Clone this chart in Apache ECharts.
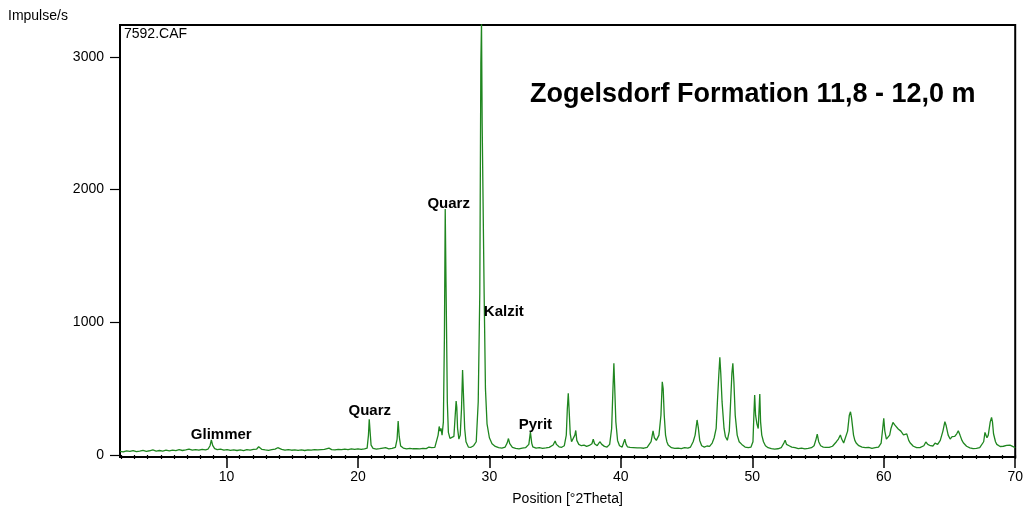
<!DOCTYPE html>
<html>
<head>
<meta charset="utf-8">
<title>Zogelsdorf Formation 11,8 - 12,0 m</title>
<script src="https://cdn.jsdelivr.net/npm/echarts@6/dist/echarts.min.js"></script>
<style>
  html, body { margin: 0; padding: 0; background: #fff; }
  #chart { width: 1026px; height: 512px; }
</style>
</head>
<body>
<div id="chart"></div>
<script>
// Diffractogram 7592.CAF: [position °2Theta, intensity impulse/s]
const scan = [
  [1.9,28],[2.05,33],[2.15,24],[2.3,29],[2.4,31],[2.55,25],[2.65,27],[2.8,31],[2.9,33],[3.05,28],[3.15,26],[3.3,32],[3.4,30],[3.55,27],[3.65,35],[3.8,31],[3.9,28],[4.05,34],[4.15,32],
  [4.3,29],[4.4,38],[4.55,33],[4.65,30],[4.8,36],[4.9,34],[5.05,31],[5.15,29],[5.3,35],[5.4,36],[5.55,30],[5.65,31],[5.8,38],[5.9,37],[6.05,32],[6.15,33],[6.3,37],[6.4,40],[6.55,35],[6.65,34],
  [6.8,40],[6.9,38],[7.05,36],[7.15,44],[7.3,39],[7.4,36],[7.55,42],[7.65,41],[7.8,35],[7.9,37],[8.05,41],[8.15,43],[8.3,38],[8.4,39],[8.6,45],[8.75,70],[8.85,113],
  [8.95,72],[9.1,48],[9.3,40],[9.45,37],[9.55,44],[9.7,39],[9.8,36],[9.95,40],[10.05,41],[10.2,37],[10.3,35],[10.45,40],[10.55,39],[10.7,35],[10.8,34],[10.95,39],[11.05,38],
  [11.2,35],[11.3,33],[11.45,39],[11.55,40],[11.7,35],[11.8,36],[11.95,40],[12.05,42],[12.3,45],[12.45,62],[12.55,58],[12.7,42],[12.85,40],[12.95,38],[13.1,41],[13.2,35],
  [13.35,38],[13.45,40],[13.6,38],[13.7,44],[13.9,55],[14.05,46],[14.2,42],[14.3,40],[14.45,37],[14.55,36],[14.7,41],[14.8,39],[14.95,36],[15.05,34],[15.2,39],[15.3,38],[15.45,35],[15.55,33],
  [15.7,38],[15.8,37],[15.95,34],[16.05,35],[16.2,39],[16.3,40],[16.45,37],[16.55,36],[16.7,41],[16.8,39],[16.95,38],[17.05,42],[17.2,40],[17.3,38],[17.45,42],[17.55,44],[17.8,52],[18.0,41],
  [18.15,44],[18.25,38],[18.4,42],[18.5,43],[18.65,39],[18.75,40],[18.9,44],[19.0,45],[19.15,40],[19.25,41],[19.4,46],[19.5,47],[19.65,43],[19.75,42],[19.9,47],[20.0,46],[20.15,42],[20.25,43],[20.4,48],[20.5,47],
  [20.7,52],[20.8,150],[20.86,269],[20.93,170],[21.0,75],[21.15,50],[21.3,47],[21.4,45],[21.55,50],[21.65,48],[21.8,46],[21.9,52],[22.0,62],
  [22.1,55],[22.25,50],[22.35,47],[22.5,52],[22.6,50],[22.75,54],[22.85,58],[22.98,120],[23.06,256],[23.14,140],[23.25,68],[23.35,56],[23.45,52],[23.6,49],[23.7,46],
  [23.85,51],[23.95,50],[24.1,46],[24.2,47],[24.3,55],[24.45,48],[24.6,51],[24.7,46],[24.85,52],[24.95,50],[25.1,46],[25.2,48],[25.4,60],[25.5,68],[25.6,55],
  [25.75,52],[25.85,58],[26.0,70],[26.1,150],[26.18,215],[26.25,180],[26.32,200],[26.4,150],[26.5,250],[26.58,900],[26.64,1854],
  [26.7,1300],[26.74,950],[26.8,400],[26.88,170],[27.0,125],[27.15,115],[27.3,140],[27.4,300],[27.47,407],[27.52,360],
  [27.58,200],[27.68,120],[27.78,150],[27.88,350],[27.96,640],[28.04,420],[28.12,200],[28.22,100],[28.4,60],[28.5,52],[28.6,58],
  [28.8,70],[29.0,100],[29.15,400],[29.27,1220],[29.35,2950],[29.4,3260],[29.45,2500],[29.52,1900],[29.6,1220],[29.7,500],
  [29.82,235],[30.0,130],[30.2,85],[30.35,72],[30.45,65],[30.6,60],[30.7,55],[30.85,58],[30.95,52],[31.1,55],[31.2,60],[31.35,90],[31.45,124],[31.55,85],
  [31.75,58],[31.9,54],[32.0,50],[32.15,53],[32.25,47],[32.4,51],[32.5,52],[32.65,49],[32.75,55],[32.88,58],[33.0,80],[33.12,173],[33.22,90],[33.3,62],[33.4,55],[33.55,52],[33.65,50],
  [33.8,55],[33.9,52],[34.05,50],[34.15,48],[34.3,53],[34.4,55],[34.55,58],[34.65,60],[34.85,75],[35.0,105],[35.1,80],[35.2,66],[35.3,62],[35.4,56],[35.5,58],[35.6,63],[35.7,70],
  [35.85,150],[35.93,350],[36.0,465],[36.07,330],[36.15,160],[36.25,100],[36.4,95],[36.5,150],[36.57,185],[36.65,110],
  [36.8,80],[36.9,74],[37.0,70],[37.1,78],[37.2,75],[37.3,68],[37.4,65],[37.5,74],[37.6,72],[37.7,68],[37.8,85],[37.9,119],[38.0,85],[38.1,74],[38.2,70],[38.3,82],[38.4,100],
  [38.55,80],[38.65,70],[38.75,65],[38.85,62],[38.95,60],[39.05,66],[39.15,80],[39.3,200],[39.4,500],[39.47,691],[39.53,520],[39.62,250],[39.75,110],
  [39.9,70],[40.0,64],[40.1,60],[40.2,72],[40.3,119],[40.4,80],[40.5,62],[40.6,55],[40.7,58],[40.85,52],[40.95,56],[41.1,58],[41.25,53],[41.35,50],[41.5,54],[41.6,55],[41.75,51],[41.85,53],
  [42.0,57],[42.1,60],[42.3,100],[42.45,182],[42.55,130],[42.7,110],[42.9,150],[43.05,300],[43.15,552],[43.22,500],[43.3,300],
  [43.4,150],[43.5,100],[43.6,75],[43.75,60],[43.85,55],[44.0,52],[44.1,50],[44.25,54],[44.35,52],[44.5,49],[44.6,48],[44.75,53],[44.85,55],[45.0,51],[45.1,52],[45.2,57],[45.3,60],[45.5,100],
  [45.65,150],[45.8,264],[45.9,200],[46.0,110],[46.15,70],[46.25,64],[46.35,60],[46.45,65],[46.55,68],[46.65,62],[46.75,65],[46.85,72],[46.95,90],[47.1,130],
  [47.25,200],[47.35,409],[47.45,600],[47.53,736],[47.6,620],[47.7,400],[47.85,200],[47.95,140],[48.1,111],[48.25,180],
  [48.35,400],[48.45,620],[48.52,691],[48.6,550],[48.7,300],[48.85,150],[49.0,100],[49.1,86],[49.2,80],[49.35,66],[49.45,60],[49.6,58],[49.7,55],
  [49.8,57],[49.9,60],[50.05,100],[50.12,300],[50.18,452],[50.25,300],[50.35,235],[50.45,200],[50.52,350],[50.57,460],[50.63,250],
  [50.72,150],[50.85,100],[51.0,70],[51.1,60],[51.2,55],[51.35,50],[51.45,48],[51.6,44],[51.7,45],[51.85,49],[51.95,47],[52.1,52],[52.2,55],[52.4,90],[52.5,111],
  [52.6,80],[52.7,74],[52.8,70],[52.9,64],[53.0,60],[53.1,68],[53.25,55],[53.4,51],[53.5,48],[53.65,53],[53.75,52],[53.9,47],[54.0,46],[54.15,51],[54.25,50],[54.4,53],[54.5,55],
  [54.7,70],[54.85,120],[54.94,157],[55.05,100],[55.2,70],[55.3,63],[55.4,60],[55.5,65],[55.6,58],[55.7,55],[55.85,58],[55.95,60],[56.1,66],[56.2,80],
  [56.4,100],[56.55,120],[56.7,151],[56.8,120],[56.95,90],[57.1,100],[57.25,180],[57.38,300],[57.47,326],[57.55,280],
  [57.7,150],[57.8,110],[57.9,90],[58.0,76],[58.1,70],[58.25,64],[58.35,60],[58.5,58],[58.6,55],[58.75,60],[58.85,58],[59.0,53],[59.1,50],[59.25,54],[59.35,55],[59.5,58],[59.6,60],[59.8,90],
  [59.92,200],[60.0,277],[60.08,180],[60.2,120],[60.3,113],[60.45,150],[60.55,200],[60.7,245],[60.85,225],[61.0,210],
  [61.1,196],[61.2,190],[61.3,180],[61.4,175],[61.5,152],[61.6,140],[61.75,159],[61.9,110],[62.0,92],[62.1,80],[62.25,66],[62.35,60],[62.5,55],[62.6,52],[62.75,56],[62.85,55],[63.05,70],
  [63.2,98],[63.35,80],[63.45,73],[63.55,70],[63.65,72],[63.75,68],[63.9,90],[64.1,80],[64.3,110],[64.5,180],[64.65,251],[64.75,220],
  [64.9,150],[65.05,120],[65.2,138],[65.4,140],[65.55,160],[65.67,182],[65.8,150],[65.95,110],[66.05,92],[66.15,80],[66.3,66],[66.4,60],
  [66.55,54],[66.65,50],[66.8,48],[66.9,45],[67.05,50],[67.15,48],[67.3,55],[67.4,60],[67.6,100],[67.7,170],[67.76,182],[67.85,130],[67.95,150],[68.1,250],
  [68.2,284],[68.27,250],[68.35,160],[68.5,100],[68.6,80],[68.7,70],[68.85,64],[68.95,60],[69.1,66],[69.2,65],[69.35,72],[69.45,78],[69.6,74],[69.7,70],[69.8,65],[69.9,60],
  [70.0,55]
];

// Phase labels and where they sit, in axis units [°2Theta, impulse/s]
const phaseNames = ['Glimmer', 'Quarz', 'Quarz', 'Kalzit', 'Pyrit'];
const phaseLabelAt = [[9.6, 150], [20.9, 335], [26.9, 1890], [31.1, 1080], [33.5, 230]];

// Tick values
const xMajorTicks = [10, 20, 30, 40, 50, 60, 70];
const xMinorTicks = [];
for (let t = 2; t <= 70; t++) xMinorTicks.push(t);
const yTicks = [0, 1000, 2000, 3000];

const chart = echarts.init(document.getElementById('chart'), null, { renderer: 'canvas' });

const FONT = '"Liberation Sans", Arial, sans-serif';
const INK = '#000';

chart.setOption({
  animation: false,
  backgroundColor: '#fff',
  grid: {
    left: 120, right: 8, top: 25, bottom: 55,
    show: true, borderColor: INK, borderWidth: 2, backgroundColor: 'transparent'
  },
  xAxis: [
    {
      type: 'value', min: 1.9, max: 70, position: 'bottom',
      name: 'Position [°2Theta]', nameLocation: 'middle', nameGap: 35,
      nameTextStyle: { fontFamily: FONT, fontSize: 14, color: INK },
      axisLine: { show: true, onZero: false, lineStyle: { color: INK, width: 2 } },
      axisTick: { show: true, inside: false, length: 11, customValues: xMajorTicks, lineStyle: { color: INK, width: 1.5 } },
      axisLabel: { show: true, customValues: xMajorTicks, margin: 13, fontFamily: FONT, fontSize: 14, color: INK, formatter: v => String(v) },
      splitLine: { show: false }
    },
    {
      type: 'value', min: 1.9, max: 70, position: 'bottom', offset: 0,
      axisLine: { show: false },
      axisTick: { show: true, inside: false, length: 4, customValues: xMinorTicks, lineStyle: { color: INK, width: 1.2 } },
      axisLabel: { show: false },
      splitLine: { show: false }
    }
  ],
  yAxis: {
    type: 'value', min: -15, max: 3240,
    axisLine: { show: true, onZero: false, lineStyle: { color: INK, width: 2 } },
    axisTick: { show: true, inside: false, length: 10, customValues: yTicks, lineStyle: { color: INK, width: 1.2 } },
    axisLabel: { show: true, customValues: yTicks, margin: 16, fontFamily: FONT, fontSize: 14, color: INK, formatter: v => String(v) },
    splitLine: { show: false }
  },
  graphic: [
    { type: 'text', left: 8, top: 9, style: { text: 'Impulse/s', font: '14px ' + FONT, fill: INK } },
    { type: 'text', left: 124, top: 27, style: { text: '7592.CAF', font: '14px ' + FONT, fill: INK } },
    { type: 'text', left: 530, top: 81, style: { text: 'Zogelsdorf Formation 11,8 - 12,0 m', font: 'bold 27px ' + FONT, fill: INK } }
  ],
  series: [
    {
      type: 'line',
      xAxisIndex: 0,
      data: scan,
      showSymbol: false,
      symbol: 'none',
      clip: true,
      lineStyle: { color: '#1f861f', width: 1.3 },
      z: 2
    },
    {
      type: 'scatter',
      xAxisIndex: 0,
      symbolSize: 0,
      itemStyle: { opacity: 1 },
      data: phaseNames.map((n, i) => ({ name: n, value: phaseLabelAt[i] })),
      label: {
        show: true, position: 'inside', formatter: p => p.name,
        fontFamily: FONT, fontSize: 15, fontWeight: 'bold', color: INK, opacity: 1
      },
      silent: true,
      z: 3
    }
  ]
});
</script>
</body>
</html>
